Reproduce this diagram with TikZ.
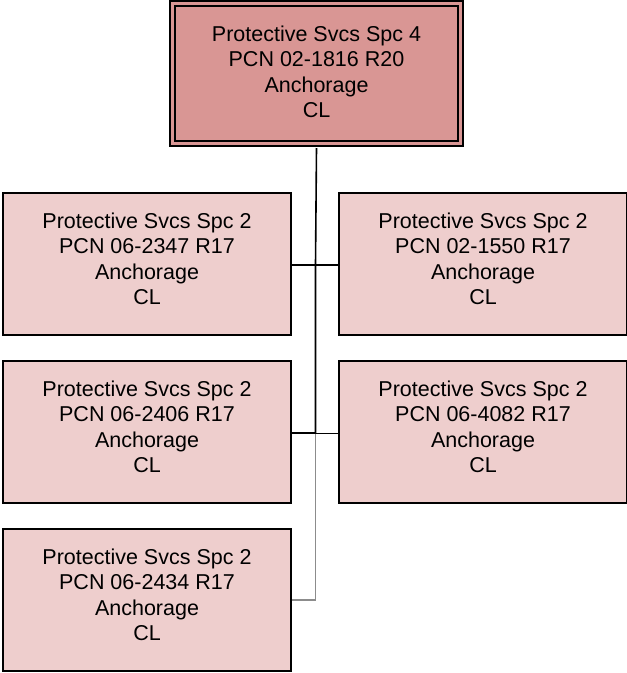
\documentclass[tikz,border=0pt]{standalone}
\usepackage{fontspec}
\setmainfont{Liberation Sans}
\definecolor{topfill}{RGB}{217,150,148}
\definecolor{subfill}{RGB}{238,206,205}
\definecolor{linegray}{RGB}{140,140,140}
\begin{document}
\begin{tikzpicture}[x=1pt,y=-1pt,
  txt/.style={align=center,font=\fontsize{21.5}{25.5}\selectfont,inner sep=0pt},
  subbox/.style={draw=black,line width=1.8pt,fill=subfill,minimum width=288pt,minimum height=142pt,inner sep=0pt},
  topbox/.style={draw=black,line width=1.8pt,fill=topfill,double=topfill,double distance=3.5pt,minimum width=288pt,minimum height=140pt,inner sep=0pt},
  conn/.style={draw=black,line width=1.6pt},
  connthin/.style={draw=black,line width=1pt},
  conngray/.style={draw=linegray,line width=1.2pt}]
\useasboundingbox (0,0) rectangle (627,673);
\node[topbox] (top) at (316.5,73.5) {};
\node[txt] (ttop) at (316.5,72) {Protective Svcs Spc 4\\PCN 02-1816 R20\\Anchorage\\CL};
\node[subbox] (l1) at (147,264) {};
\node[txt] (tl1) at (147,259) {Protective Svcs Spc 2\\PCN 06-2347 R17\\Anchorage\\CL};
\node[subbox] (r1) at (483,264) {};
\node[txt] (tr1) at (483,259) {Protective Svcs Spc 2\\PCN 02-1550 R17\\Anchorage\\CL};
\node[subbox] (l2) at (147,432) {};
\node[txt] (tl2) at (147,427) {Protective Svcs Spc 2\\PCN 06-2406 R17\\Anchorage\\CL};
\node[subbox] (r2) at (483,432) {};
\node[txt] (tr2) at (483,427) {Protective Svcs Spc 2\\PCN 06-4082 R17\\Anchorage\\CL};
\node[subbox] (l3) at (147,600) {};
\node[txt] (tl3) at (147,595) {Protective Svcs Spc 2\\PCN 06-2434 R17\\Anchorage\\CL};
\coordinate (j1) at (315.5,265);
\coordinate (j2) at (315.5,433);
\coordinate (j3) at (315.5,600);
\draw[conn] (top.south |- 0,148) -- (j1) -- (j2);
\draw[conngray] (j2) -- (j3) -- (l3.east |- j3);
\draw[conn] (l1.east |- j1) -- (r1.west |- j1);
\draw[conn] (l2.east |- j2) -- (j2);
\draw[connthin] (j2) -- (r2.west |- j2);
\end{tikzpicture}
\end{document}
